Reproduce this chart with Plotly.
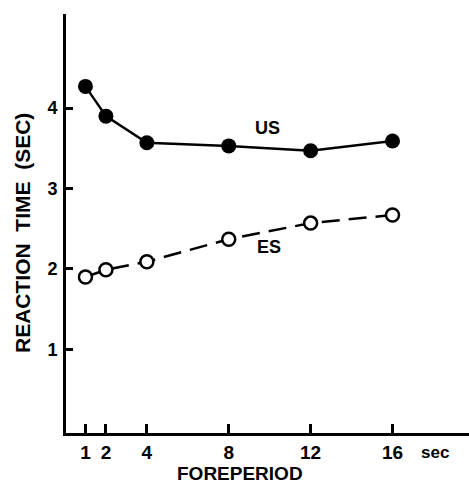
import plotly.graph_objects as go

foreperiod = [1, 2, 4, 8, 12, 16]
us_rt = [4.27, 3.90, 3.57, 3.53, 3.47, 3.59]
es_rt = [1.90, 1.99, 2.09, 2.37, 2.57, 2.67]
x_ticks = [1, 2, 4, 8, 12, 16]
y_ticks = [1, 2, 3, 4]

FONT = "Liberation Sans, Arial, sans-serif"
W, H = 469, 485
# plot area in page pixels: x 66..469, y 14..433
L, R, T, B = 66, 0, 14, H - 433

fig = go.Figure()
fig.add_trace(go.Scatter(
    x=foreperiod, y=us_rt, mode="lines+markers", name="US",
    line=dict(color="black", width=2.5),
    marker=dict(symbol="circle", size=15, color="black", line=dict(color="black", width=0)),
    showlegend=False,
))
fig.add_trace(go.Scatter(
    x=foreperiod, y=es_rt, mode="lines+markers", name="ES",
    line=dict(color="black", width=2.5, dash="18px,9px"),
    marker=dict(symbol="circle", size=13, color="white", line=dict(color="black", width=2.5)),
    showlegend=False,
))

def px(xp):  # page pixel -> paper x
    return (xp - L) / (W - L - R)

def py(yp):  # page pixel -> paper y
    return (H - B - yp) / (H - B - T)

annos = [
    dict(text="<b>US</b>", x=9.9, y=3.75, xref="x", yref="y", font=dict(size=18),
         showarrow=False, xanchor="center", yanchor="middle"),
    dict(text="<b>ES</b>", x=9.95, y=2.27, xref="x", yref="y", font=dict(size=18),
         showarrow=False, xanchor="center", yanchor="middle"),
    dict(text="<b>sec</b>", x=px(435), y=py(452), xref="paper", yref="paper", font=dict(size=17),
         showarrow=False, xanchor="center", yanchor="middle"),
    dict(text="<b>FOREPERIOD</b>", x=px(240), y=py(474), xref="paper", yref="paper", font=dict(size=19),
         showarrow=False, xanchor="center", yanchor="middle"),
    dict(text="<b>REACTION  TIME  (SEC)</b>", x=px(22), y=py(233), xref="paper", yref="paper",
         font=dict(size=21), showarrow=False, textangle=-90, xanchor="center", yanchor="middle"),
]

fig.update_layout(
    width=W, height=H,
    margin=dict(l=L, r=R, t=T, b=B, autoexpand=False),
    paper_bgcolor="white", plot_bgcolor="white",
    font=dict(family=FONT, color="black"),
    annotations=annos,
    xaxis=dict(
        range=[0.05, 0.05 + (W - L - R) / 20.47],
        tickvals=x_ticks, ticktext=[f"<b>{v}</b>" for v in x_ticks],
        ticks="inside", ticklen=9, tickwidth=2.5, tickcolor="black",
        showline=True, linecolor="black", linewidth=3,
        showgrid=False, zeroline=False, tickfont=dict(size=19),
        ticklabelstandoff=0, automargin=False,
    ),
    yaxis=dict(
        range=[-0.04, 5.17],
        tickvals=y_ticks, ticktext=[f"<b>{v}</b>" for v in y_ticks],
        ticks="inside", ticklen=7, tickwidth=2.5, tickcolor="black",
        showline=True, linecolor="black", linewidth=3,
        showgrid=False, zeroline=False, tickfont=dict(size=18),
        ticklabelstandoff=2, automargin=False,
    ),
)

fig.write_html(
    "out.html",
    config={"displayModeBar": False},
    post_script="document.body.style.margin='0';document.body.style.overflow='hidden';",
)
